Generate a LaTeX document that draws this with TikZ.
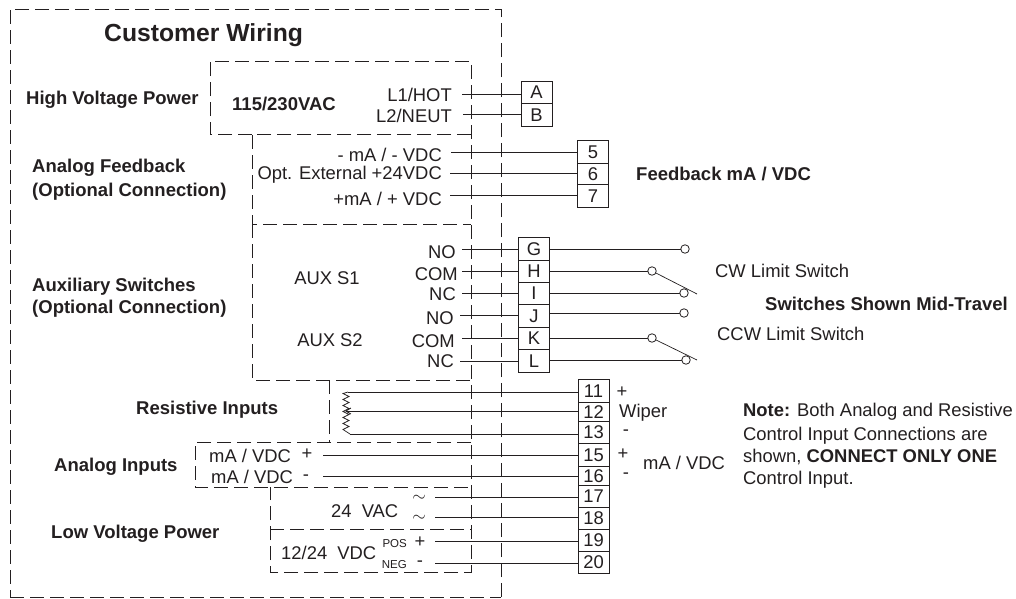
\documentclass[tikz,border=0pt]{standalone}
\usepackage{fontspec}
\setmainfont{Liberation Sans}
\usetikzlibrary{arrows.meta}
\definecolor{ink}{HTML}{231F20}
\tikzset{
  dash box/.style={draw=ink,line width=0.9pt,dash pattern=on 14pt off 6pt},
  wire/.style={draw=ink,line width=0.9pt},
  term/.style={draw=ink,line width=0.9pt,rectangle,inner sep=0pt,minimum width=31pt,text=ink,text height=13pt,text depth=0pt,font=\fontsize{18.4}{18}\selectfont},
  lbl/.style={inner sep=0pt,yshift=-1.5pt,text=ink,font=\fontsize{18.4}{20}\selectfont},
  head/.style={inner sep=0pt,yshift=-1.5pt,text=ink,font=\fontsize{18.5}{20}\selectfont\bfseries},
  contact/.style={circle,draw=ink,fill=white,line width=0.8pt,inner sep=0pt,minimum size=8.5pt},
  small/.style={inner sep=0pt,yshift=-1pt,text=ink,font=\fontsize{11.5}{12}\selectfont},
}
\begin{document}
\begin{tikzpicture}[x=1pt,y=-1pt]
\useasboundingbox (0,0) rectangle (1016,598);
\fill[white] (0,0) rectangle (1016,598);

% dashed enclosures
\draw[dash box] (501,597) -- (501,9) -- (10,9) -- (10,597);
\draw[dash box] (10,597) -- (501,597);
\draw[dash box] (252,134) -- (210,134) -- (210,61) -- (471,61) -- (471,572) -- (270,572) -- (270,487);
\draw[dash box] (471,134) -- (252,134) -- (252,224) -- (471,224);
\draw[dash box] (252,224) -- (252,380) -- (471,380);
\draw[dash box] (329,380) -- (329,442);
\draw[dash box] (471,442) -- (195,442) -- (195,487) -- (471,487);
\draw[dash box] (270,529) -- (471,529);

% terminals: name/label/top/bottom/x-centre/wire y/wire start
\foreach \n/\t/\a/\b/\c/\w/\s in {
  A/A/81/103/536.5/94/462, B/B/103/126/536.5/114/463,
  5/5/140/163/593/152/451, 6/6/163/184/593/173/450, 7/7/184/207/593/195/450,
  G/G/237/260/534/249/462, H/H/260/282/534/271/462, I/I/282/304/534/293/462,
  J/J/304/327/534/315/460, K/K/327/349/534/338/462, L/L/349/372/534/361/460,
  15/15/443/466/593.5/455/323, 16/16/466/485/593.5/476/323,
  17/17/485/507/593.5/497/435, 18/18/507/529/593.5/517/435,
  19/19/529/551/593.5/541/435, 20/20/551/573/593.5/563/435}{
  \pgfmathsetmacro\h{\b-\a}
  \pgfmathsetmacro\m{(\a+\b)/2}
  \node[term,minimum height=\h pt] (t\n) at (\c,\m) {\t};
  \coordinate (w\n) at (\s,\w);
  \draw[wire] (w\n) -- (w\n -| t\n.west);
}
\foreach \n/\a/\b in {11/379/402,12/402/421,13/421/443}{
  \pgfmathsetmacro\h{\b-\a}
  \pgfmathsetmacro\m{(\a+\b)/2}
  \node[term,minimum height=\h pt] (t\n) at (593.5,\m) {\n};
}

% resistor and wiper
\coordinate (rtop) at (348,392);
\coordinate (rbot) at (350,434);
\coordinate (wiper) at (345,411);
\draw[wire,line width=0.7pt] (rtop) -- (343,393.5) -- (349,396.5) -- (343,399.5) -- (349,402.5) -- (343,405.5) -- (349,408.5) -- (343,411.5) -- (349,414.5) -- (343,417.5) -- (349,420.5) -- (343,423.5) -- (349,426.5) -- (343,429.5) -- (rbot);
\draw[wire] (rtop) -- (rtop -| t11.west);
\draw[wire] (rbot) -- (rbot -| t13.west);
\draw[wire,{Straight Barb[length=5pt,width=6pt]}-] (wiper) -- (wiper -| t12.west);

% switch contacts
\foreach \n/\x/\y in {G/685/249,H/652/271,I/684/293,J/684/313,K/652/338,L/686/360}{
  \coordinate (c\n) at (\x,\y);
  \draw[wire] (c\n -| t\n.east) -- (c\n);
}
\coordinate (bladeA) at (697,294);
\coordinate (bladeB) at (697,360);
\draw[wire,line width=0.7pt] (cH) -- (bladeA);
\draw[wire,line width=0.7pt] (cK) -- (bladeB);
\foreach \n in {G,H,I,J,K}{\node[contact] (s\n) at (c\n) {};}
\node[contact] (sL) at (cL) {};

% left side headings
\node[inner sep=0pt,yshift=-2pt,text=ink,anchor=west,font=\fontsize{24.7}{26}\selectfont\bfseries] (title) at (104,33) {Customer Wiring};
\node[head,anchor=west] (hv) at (26,98) {High Voltage Power};
\node[head,anchor=west] (v115) at (232,102) {115/230VAC};
\node[head,anchor=west] (af1) at (32,166) {Analog Feedback};
\node[head,anchor=west] (af2) at (32,190) {(Optional Connection)};
\node[head,anchor=west] (as1) at (32,285) {Auxiliary Switches};
\node[head,anchor=west] (as2) at (32,307) {(Optional Connection)};
\node[head,anchor=west] (ri) at (136,408) {Resistive Inputs};
\node[head,anchor=west] (ai) at (54,465) {Analog Inputs};
\node[head,anchor=west] (lv) at (51,532) {Low Voltage Power};
\node[head,anchor=west] (fb) at (636,172) {Feedback mA / VDC};
\node[head,anchor=west] (mid) at (765,302) {Switches Shown Mid-Travel};

% wire labels
\node[lbl,anchor=east] (l1) at (452,93) {L1/HOT};
\node[lbl,anchor=east] (l2) at (452,114) {L2/NEUT};
\node[lbl,anchor=east] (f1) at (442,153) {- mA / - VDC};
\node[lbl,anchor=east] (f2) at (442,173) {Opt. External +24VDC};
\node[lbl,anchor=east] (f3) at (442,197) {+mA / + VDC};
\node[lbl] (s1) at (327,277) {AUX S1};
\node[lbl] (s2) at (330,339) {AUX S2};
\node[lbl,anchor=east] (a1) at (456,251) {NO};
\node[lbl,anchor=east] (a2) at (458,273) {COM};
\node[lbl,anchor=east] (a3) at (456,293) {NC};
\node[lbl,anchor=east] (a4) at (454,317) {NO};
\node[lbl,anchor=east] (a5) at (455,340) {COM};
\node[lbl,anchor=east] (a6) at (454,360) {NC};
\node[lbl,anchor=west] (m1) at (209,454) {mA / VDC};
\node[lbl] (m1s) at (307,453) {+};
\node[lbl,anchor=west] (m2) at (211,475) {mA / VDC};
\node[lbl] (m2s) at (306,476) {-};
\node[lbl,anchor=west] (vac) at (331,510) {24\hspace{5pt} VAC};
\node[lbl] (t1) at (419,497) {$\sim$};
\node[lbl] (t2) at (419,517) {$\sim$};
\node[lbl,anchor=west] (vdc) at (281,551) {12/24\hspace{5pt} VDC};
\node[small,anchor=east] (pos) at (407,543) {POS};
\node[small,anchor=east] (neg) at (407,564) {NEG};
\node[lbl] (ps) at (420,541) {+};
\node[lbl] (ns) at (420,562) {-};

% right side labels
\node[lbl] (p11) at (622,391) {+};
\node[lbl,anchor=west] (wip) at (619,411) {Wiper};
\node[lbl] (p13) at (626,431) {-};
\node[lbl] (p15) at (623,453) {+};
\node[lbl,anchor=west] (mv) at (643,461) {mA / VDC};
\node[lbl] (p16) at (626,474) {-};
\node[lbl,anchor=west] (cw) at (715,269) {CW Limit Switch};
\node[lbl,anchor=west] (ccw) at (717,332) {CCW Limit Switch};
\node[lbl,anchor=west] (n1) at (743,410) {\textbf{Note:} Both Analog and Resistive};
\node[lbl,anchor=west] (n2) at (743,434) {Control Input Connections are};
\node[lbl,anchor=west] (n3) at (743,455) {shown, \textbf{CONNECT ONLY ONE}};
\node[lbl,anchor=west] (n4) at (743,478) {Control Input.};
\end{tikzpicture}
\end{document}
